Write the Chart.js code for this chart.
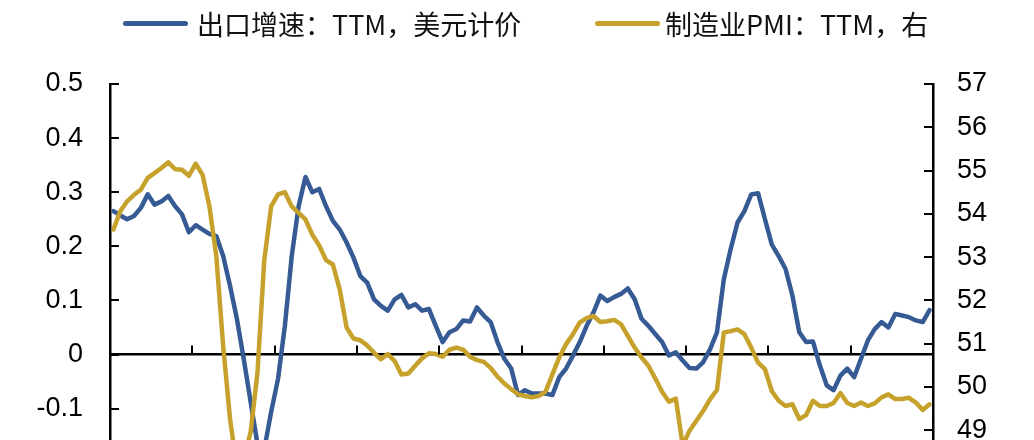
<!DOCTYPE html>
<html>
<head>
<meta charset="utf-8">
<script src="https://cdn.jsdelivr.net/npm/chart.js@4.4.1/dist/chart.umd.min.js"></script>
<style>
  body { margin: 0; overflow: hidden; background: #fff; }
  #wrap { position: relative; width: 1034px; height: 440px; overflow: hidden; }
  #chart { position: absolute; left: 0; top: 0; }
  .swatch { position: absolute; height: 5px; width: 65px; border-radius: 3px; }
  .ltext { position: absolute; font: 27px 'Noto Sans CJK SC', sans-serif; line-height: 27px; color: #111; white-space: nowrap; }
</style>
</head>
<body>
<div id="wrap">
  <canvas id="chart" width="1034" height="560"></canvas>
</div>
<script>
'use strict';

// series names (legend)
let seriesNames = ['出口增速：TTM，美元计价', '制造业PMI：TTM，右'];
let seriesColors = ['#355A94', '#C6A12B'];

// x tick years (one tick every 12 points)
let years = ['2006', '2008', '2010', '2012', '2014', '2016', '2018', '2020', '2022', '2024'];

// left axis: export growth, TTM, USD
let exportGrowth = [
  0.265, 0.257, 0.250, 0.256, 0.271, 0.296, 0.277, 0.283, 0.293, 0.274,
  0.259, 0.226, 0.239, 0.231, 0.223, 0.219, 0.182, 0.127, 0.066, -0.008,
  -0.087, -0.165, -0.175, -0.106, -0.045, 0.053, 0.182, 0.274, 0.328, 0.300,
  0.306, 0.274, 0.247, 0.231, 0.207, 0.179, 0.145, 0.133, 0.102, 0.090,
  0.081, 0.102, 0.110, 0.087, 0.093, 0.081, 0.084, 0.053, 0.023, 0.041,
  0.047, 0.063, 0.061, 0.087, 0.072, 0.060, 0.023, -0.008, -0.026, -0.075,
  -0.066, -0.072, -0.072, -0.072, -0.075, -0.042, -0.026, -0.002, 0.023, 0.053,
  0.078, 0.109, 0.099, 0.106, 0.112, 0.122, 0.102, 0.066, 0.053, 0.038,
  0.023, -0.002, 0.004, -0.011, -0.025, -0.026, -0.014, 0.010, 0.041, 0.139,
  0.195, 0.244, 0.265, 0.296, 0.298, 0.250, 0.203, 0.182, 0.158, 0.109,
  0.041, 0.023, 0.024, -0.020, -0.057, -0.066, -0.039, -0.026, -0.042, -0.008,
  0.026, 0.047, 0.060, 0.050, 0.075, 0.072, 0.069, 0.063, 0.060, 0.082
];

// right axis: manufacturing PMI, TTM
let pmi = [
  53.64, 54.06, 54.29, 54.44, 54.56, 54.83, 54.94, 55.06, 55.19, 55.03,
  55.02, 54.88, 55.16, 54.90, 54.17, 53.02, 50.95, 49.26, 48.15, 48.35,
  48.95, 50.33, 52.94, 54.17, 54.45, 54.50, 54.17, 54.02, 53.87, 53.52,
  53.27, 52.93, 52.83, 52.25, 51.37, 51.12, 51.08, 50.96, 50.79, 50.64,
  50.76, 50.60, 50.29, 50.31, 50.49, 50.66, 50.78, 50.76, 50.70, 50.86,
  50.91, 50.86, 50.70, 50.62, 50.58, 50.44, 50.24, 50.08, 49.95, 49.83,
  49.79, 49.76, 49.79, 49.89, 50.29, 50.68, 50.99, 51.22, 51.49, 51.59,
  51.64, 51.50, 51.52, 51.55, 51.45, 51.18, 50.91, 50.68, 50.49, 50.20,
  49.89, 49.66, 49.73, 48.65, 48.99, 49.22, 49.45, 49.72, 49.93, 51.26,
  51.29, 51.33, 51.22, 50.91, 50.56, 50.41, 49.90, 49.68, 49.56, 49.60,
  49.26, 49.35, 49.68, 49.56, 49.56, 49.63, 49.86, 49.63, 49.56, 49.64,
  49.56, 49.62, 49.76, 49.83, 49.72, 49.72, 49.75, 49.64, 49.47, 49.60
];

let labels = [];
years.forEach(y => {
  for (let k = 0; k < 12; k++) labels.push(y + '-' + (k + 1));
});

// html legend
let legendPos = [{ box: 123, text: 197 }, { box: 595, text: 665 }];
let wrap = document.getElementById('wrap');
seriesNames.forEach((name, i) => {
  let sw = document.createElement('div');
  sw.className = 'swatch';
  sw.style.left = legendPos[i].box + 'px';
  sw.style.top = '21px';
  sw.style.background = seriesColors[i];
  wrap.appendChild(sw);
  let tx = document.createElement('div');
  tx.className = 'ltext';
  tx.style.left = legendPos[i].text + 'px';
  tx.style.top = '10px';
  tx.textContent = name;
  wrap.appendChild(tx);
});

// inward tick marks, like the excel original
let axisTicks = {
  id: 'axisTicks',
  afterDraw (chart) {
    let { ctx, chartArea: a, scales: { x, y, y1 } } = chart;
    ctx.save();
    ctx.strokeStyle = '#000';
    ctx.lineWidth = 2;
    ctx.beginPath();
    y.ticks.forEach(t => {
      let py = Math.round(y.getPixelForValue(t.value));
      ctx.moveTo(a.left, py);
      ctx.lineTo(a.left + 9, py);
    });
    y1.ticks.forEach(t => {
      let py = Math.round(y1.getPixelForValue(t.value));
      ctx.moveTo(a.right - 9, py);
      ctx.lineTo(a.right, py);
    });
    let y0 = y.getPixelForValue(0);
    for (let k = 1; k <= years.length; k++) {
      let px = Math.round(x.getPixelForValue(k * 12 - 0.5));
      ctx.moveTo(px, y0);
      ctx.lineTo(px, y0 - 9);
    }
    ctx.stroke();
    ctx.restore();
  }
};

let tickFont = { family: "'Liberation Sans', Arial, sans-serif", size: 27 };
let padding = { top: 70, bottom: 27, left: 0, right: 0 };

let ctx = document.getElementById('chart').getContext('2d');
let chart = new Chart(ctx, {
  type: 'line',
  data: {
    labels: labels,
    datasets: [{
      label: seriesNames[0],
      data: exportGrowth,
      yAxisID: 'y',
      borderColor: seriesColors[0],
      backgroundColor: seriesColors[0],
      borderWidth: 4.5,
      pointRadius: 0,
      borderJoinStyle: 'round',
      borderCapStyle: 'round',
      order: 1
    }, {
      label: seriesNames[1],
      data: pmi,
      yAxisID: 'y1',
      borderColor: seriesColors[1],
      backgroundColor: seriesColors[1],
      borderWidth: 4.5,
      pointRadius: 0,
      borderJoinStyle: 'round',
      borderCapStyle: 'round',
      order: 0
    }]
  },
  options: {
    responsive: false,
    animation: false,
    layout: { padding: padding },
    plugins: {
      legend: { display: false },
      tooltip: { enabled: false }
    },
    scales: {
      x: {
        type: 'category',
        offset: true,
        position: { y: 0 },
        grid: { drawOnChartArea: false, drawTicks: false },
        ticks: { display: false },
        border: { color: '#000', width: 2.5 }
      },
      y: {
        position: 'left',
        min: -0.3,
        max: 0.5,
        ticks: {
          stepSize: 0.1,
          font: tickFont,
          color: '#000',
          padding: 27,
          callback: v => Math.abs(v) < 1e-9 ? '0' : v.toFixed(1)
        },
        grid: { drawOnChartArea: false, drawTicks: false },
        border: { color: '#000', width: 2.5 },
        afterFit: s => { s.width = 110; }
      },
      y1: {
        position: 'right',
        min: 47,
        max: 57,
        ticks: { stepSize: 1, font: tickFont, color: '#000', padding: 24 },
        grid: { drawOnChartArea: false, drawTicks: false },
        border: { color: '#000', width: 2.5 },
        afterFit: s => { s.width = 101; }
      }
    }
  },
  plugins: [axisTicks]
});

// pin the plot area to the original's frame
padding.top += 84 - chart.chartArea.top;
padding.bottom += chart.chartArea.bottom - 518;
chart.update();
</script>
</body>
</html>
